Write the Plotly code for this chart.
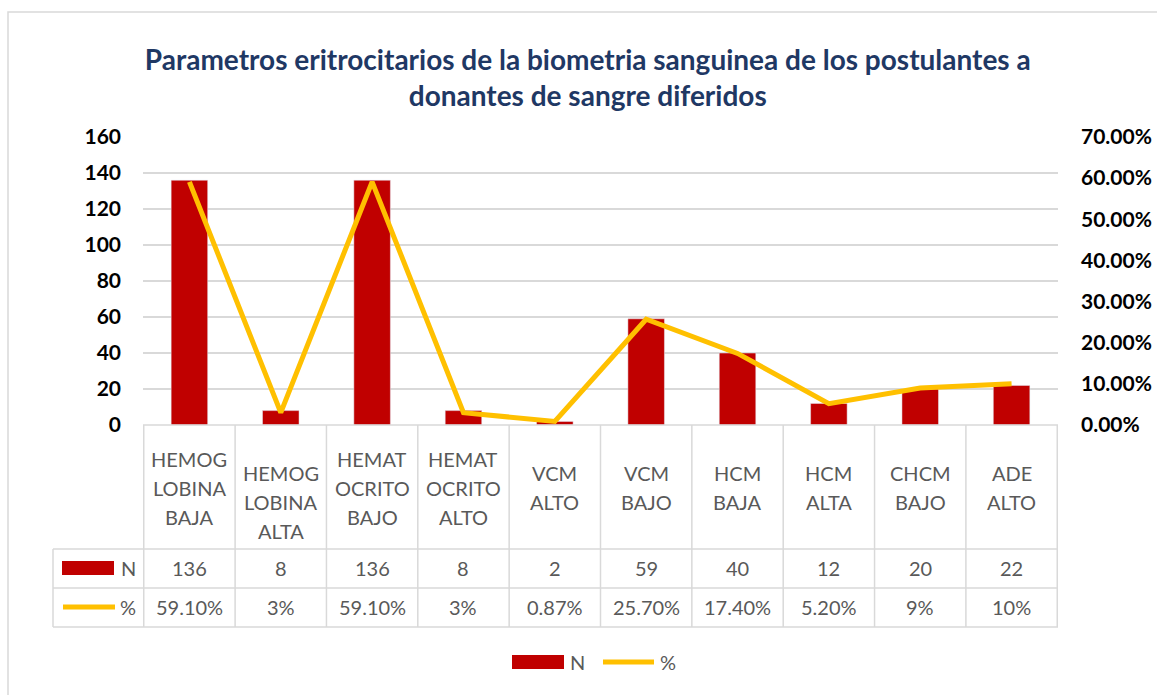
import plotly.graph_objects as go

categories = ["HEMOGLOBINA BAJA", "HEMOGLOBINA ALTA", "HEMATOCRITO BAJO", "HEMATOCRITO ALTO",
              "VCM ALTO", "VCM BAJO", "HCM BAJA", "HCM ALTA", "CHCM BAJO", "ADE ALTO"]
cat_labels = ["HEMOG<br>LOBINA<br>BAJA", "<br>HEMOG<br>LOBINA<br>ALTA", "HEMAT<br>OCRITO<br>BAJO",
              "HEMAT<br>OCRITO<br>ALTO", "VCM<br>ALTO", "VCM<br>BAJO", "HCM<br>BAJA",
              "HCM<br>ALTA", "CHCM<br>BAJO", "ADE<br>ALTO"]
n_values = [136, 8, 136, 8, 2, 59, 40, 12, 20, 22]
pct_values = [0.591, 0.03, 0.591, 0.03, 0.0087, 0.257, 0.174, 0.052, 0.09, 0.10]
pct_labels = ["59.10%", "3%", "59.10%", "3%", "0.87%", "25.70%", "17.40%", "5.20%", "9%", "10%"]

W, H = 1157, 695
L, R, T, B = 143, 1058, 137, 425
PW, PH = R - L, B - T

def px(x):
    return (x - L) / PW

def py(y):
    return (B - y) / PH

BAR = "#C00000"
LINE = "#FFC000"
GRID = "#D9D9D9"
TXT = "#595959"
FONT = "Lato"

fig = go.Figure()
fig.add_trace(go.Bar(x=categories, y=n_values, name="N", marker_color=BAR, yaxis="y"))
fig.add_trace(go.Scatter(x=categories, y=pct_values, name="%", mode="lines",
                         line=dict(color=LINE, width=5), yaxis="y2"))

shapes = []
annotations = []

def txt(x, y, text, xref="paper", xanchor="center", size=20, color=TXT):
    annotations.append(dict(xref=xref, yref="paper", x=x, y=y, text=text, showarrow=False,
                            xanchor=xanchor, yanchor="middle",
                            font=dict(family=FONT, size=size, color=color)))

# chart border
shapes.append(dict(type="rect", xref="paper", yref="paper", x0=px(8), x1=px(1175),
                   y0=py(712), y1=py(12), line=dict(color=GRID, width=1.5), layer="below"))
# table horizontal lines
for yy, x0 in [(425, 143), (549, 53), (588, 53), (627, 53)]:
    shapes.append(dict(type="line", xref="paper", yref="paper", x0=px(x0), x1=1,
                       y0=py(yy), y1=py(yy), line=dict(color=GRID, width=1.5)))
# vertical lines
for i in range(len(categories) + 1):
    shapes.append(dict(type="line", xref="x", yref="paper", x0=i - 0.5, x1=i - 0.5,
                       y0=py(425), y1=py(627), line=dict(color=GRID, width=1.5)))
shapes.append(dict(type="line", xref="paper", yref="paper", x0=px(53), x1=px(53),
                   y0=py(549), y1=py(627), line=dict(color=GRID, width=1.5)))
# table legend keys
shapes.append(dict(type="rect", xref="paper", yref="paper", x0=px(62), x1=px(114),
                   y0=py(575), y1=py(561), fillcolor=BAR, line=dict(width=0)))
shapes.append(dict(type="line", xref="paper", yref="paper", x0=px(63), x1=px(115),
                   y0=py(607), y1=py(607), line=dict(color=LINE, width=5)))
txt(px(119), py(568), "N", xanchor="left")
txt(px(118), py(607), "%", xanchor="left")

# bottom legend
shapes.append(dict(type="rect", xref="paper", yref="paper", x0=px(512), x1=px(564),
                   y0=py(669), y1=py(655), fillcolor=BAR, line=dict(width=0)))
shapes.append(dict(type="line", xref="paper", yref="paper", x0=px(603), x1=px(654),
                   y0=py(662), y1=py(662), line=dict(color=LINE, width=5)))
txt(px(568), py(662), fig.data[0].name, xanchor="left")
txt(px(658), py(662), fig.data[1].name, xanchor="left")

for c, lab, n, p in zip(categories, cat_labels, n_values, pct_labels):
    lines = lab.split("<br>")
    start = 487.5 - 29 * (len(lines) - 1) / 2
    for k, ln in enumerate(lines):
        if ln:
            txt(c, py(start + 29 * k), ln, xref="x")
    txt(c, py(568), str(n), xref="x")
    txt(c, py(607), p, xref="x")

fig.update_layout(
    width=W, height=H,
    margin=dict(l=L, r=W - R, t=T, b=H - B, autoexpand=False),
    paper_bgcolor="white", plot_bgcolor="white",
    title=dict(text="Parametros eritrocitarios de la biometria sanguinea de los postulantes a<br>donantes de sangre diferidos",
               x=0.508, xanchor="center", y=1 - 70 / H, yanchor="middle",
               font=dict(family=FONT, size=28, color="#1F3864", weight="bold")),
    bargap=0.6,
    xaxis=dict(type="category", showticklabels=False, showgrid=False, zeroline=False,
               showline=False, ticks=""),
    yaxis=dict(range=[0, 160], dtick=20, showgrid=True, gridcolor=GRID, gridwidth=1.5,
               zeroline=False, showline=False, ticks="", ticklabelstandoff=21,
               tickfont=dict(family=FONT, size=21, color="black", weight="bold")),
    yaxis2=dict(range=[0, 0.7], dtick=0.1, tickformat=".2%", overlaying="y", side="right",
                showgrid=False, zeroline=False, showline=False, ticks="", ticklabelstandoff=22,
                tickfont=dict(family=FONT, size=21, color="black", weight="bold")),
    showlegend=False,
    shapes=shapes, annotations=annotations,
)

fig.write_html("out.html", config={"displayModeBar": False},
               post_script="document.body.style.margin='0';document.body.style.overflow='hidden';")
